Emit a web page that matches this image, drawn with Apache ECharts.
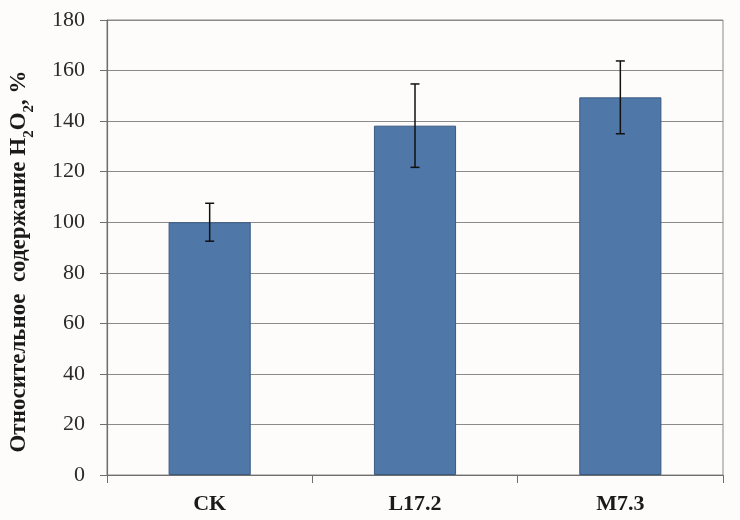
<!DOCTYPE html>
<html><head><meta charset="utf-8">
<script src="https://cdn.jsdelivr.net/npm/echarts@6/dist/echarts.min.js"></script>
<style>html,body{margin:0;padding:0;background:#fdfcfa;}#c{width:740px;height:520px;}</style>
</head><body><div id="c"></div>
<script>
var categories = ['CK', 'L17.2', 'M7.3'];
var values = [100, 138.2, 149.4];
var errors = [7.5, 16.5, 14.4];
var yTicks = [0, 20, 40, 60, 80, 100, 120, 140, 160, 180];

var chart = echarts.init(document.getElementById('c'));
var serif = '"Liberation Serif", "DejaVu Serif", serif';
chart.setOption({
  backgroundColor: '#fdfcfa',
  animation: false,
  grid: { left: 107, right: 17, top: 20, bottom: 45, show: true, borderColor: '#8a8a8a', borderWidth: 1 },
  xAxis: {
    type: 'category',
    data: categories,
    axisLine: { lineStyle: { color: '#6e6e6e', width: 1.2 } },
    axisTick: { show: true, length: 8, lineStyle: { color: '#6e6e6e' } },
    axisLabel: { fontFamily: serif, fontWeight: 'bold', fontSize: 22, color: '#1a1a1a', margin: 18 }
  },
  yAxis: {
    type: 'value', min: 0, max: yTicks[yTicks.length - 1], interval: 20,
    name: '{b|Относительное  содержание H}{s|2}{b|O}{s|2}{b|, %}',
    nameLocation: 'middle', nameGap: 76, nameRotate: 90,
    nameTextStyle: {
      padding: [0, 28, 0, 0],
      rich: {
        b: { fontFamily: serif, fontWeight: 'bold', fontSize: 23, color: '#1a1a1a', verticalAlign: 'bottom', lineHeight: 26 },
        s: { fontFamily: serif, fontWeight: 'bold', fontSize: 15, color: '#1a1a1a', verticalAlign: 'bottom', lineHeight: 26, padding: [0, 0, -6, 0] }
      }
    },
    axisLine: { show: true, lineStyle: { color: '#6e6e6e', width: 1.2 } },
    axisTick: { show: true, length: 7, lineStyle: { color: '#6e6e6e' } },
    axisLabel: { fontFamily: serif, fontSize: 22, color: '#2a2a2a', margin: 22 },
    splitLine: { lineStyle: { color: '#8a8a8a', width: 1 } }
  },
  series: [
    {
      type: 'bar', data: values, barWidth: '40%',
      itemStyle: { color: '#4f77a8', borderColor: '#3a5a80', borderWidth: 1 }
    },
    {
      type: 'custom',
      data: values.map(function (v, i) { return [i, v - errors[i], v + errors[i]]; }),
      renderItem: function (params, api) {
        var lo = api.coord([api.value(0), api.value(1)]);
        var hi = api.coord([api.value(0), api.value(2)]);
        var w = 4.5;
        var st = { stroke: '#111', lineWidth: 1.5 };
        return {
          type: 'group',
          children: [
            { type: 'line', shape: { x1: hi[0], y1: hi[1], x2: lo[0], y2: lo[1] }, style: st },
            { type: 'line', shape: { x1: hi[0] - w, y1: hi[1], x2: hi[0] + w, y2: hi[1] }, style: st },
            { type: 'line', shape: { x1: lo[0] - w, y1: lo[1], x2: lo[0] + w, y2: lo[1] }, style: st }
          ]
        };
      },
      z: 5
    }
  ]
});
</script></body></html>
